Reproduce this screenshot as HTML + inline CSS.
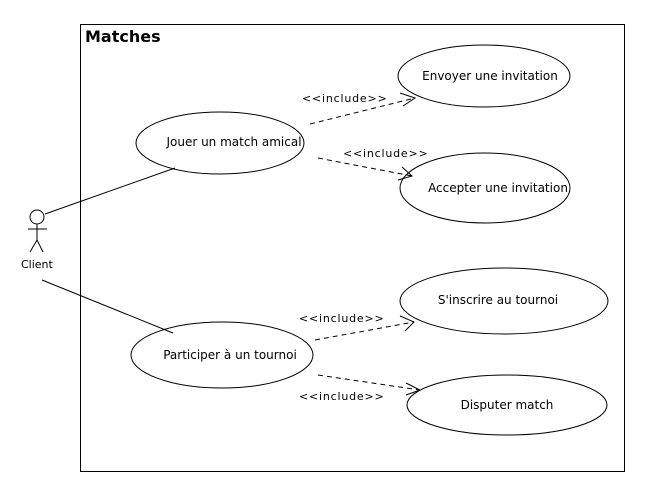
<!DOCTYPE html><html><head><style>body{margin:0;background:#fff}text{font-family:"DejaVu Sans","Liberation Sans",sans-serif;font-size:12px;fill:#000}</style></head><body>
<svg width="656" height="496" xmlns="http://www.w3.org/2000/svg">
<rect x="80.5" y="24.5" width="544" height="447" fill="none" stroke="#000"/>
<text x="85" y="42" style="font-size:16px;font-weight:bold">Matches</text>
<g fill="#fff" stroke="#000">
<ellipse cx="220" cy="143" rx="84" ry="31"/>
<ellipse cx="484" cy="76" rx="86" ry="31"/>
<ellipse cx="485" cy="188" rx="85" ry="35"/>
<ellipse cx="504" cy="301" rx="104" ry="33"/>
<ellipse cx="222" cy="355" rx="91" ry="33"/>
<ellipse cx="507" cy="405" rx="100" ry="30"/>
</g>
<text x="234" y="146" text-anchor="middle">Jouer un match amical</text>
<text x="490" y="80" text-anchor="middle">Envoyer une invitation</text>
<text x="498" y="192" text-anchor="middle">Accepter une invitation</text>
<text x="498" y="304" text-anchor="middle">S'inscrire au tournoi</text>
<text x="230" y="359" text-anchor="middle">Participer à un tournoi</text>
<text x="507" y="409" text-anchor="middle">Disputer match</text>
<g stroke="#000" fill="none">
<circle cx="37" cy="217" r="7"/>
<line x1="37" y1="224" x2="37" y2="240"/><line x1="28" y1="229" x2="47" y2="229"/>
<polyline points="30,252 37,240 43,252"/>
<line x1="45" y1="214" x2="175" y2="168"/>
<line x1="42" y1="280" x2="173" y2="333"/>
<g stroke-dasharray="5,4">
<line x1="310" y1="124" x2="415" y2="98"/>
<line x1="318" y1="158" x2="412" y2="176"/>
<line x1="315" y1="340" x2="414" y2="322"/>
<line x1="318" y1="375" x2="420" y2="390"/>
</g>
<polyline points="400,93 415,98 403,106"/>
<polyline points="402,167 412,176 398,180"/>
<polyline points="400,316 414,322 405,331"/>
<polyline points="406,383 420,390 406,395"/>
</g>
<text x="21" y="268" style="font-size:11px">Client</text>
<text x="302" y="102" style="font-size:11px;letter-spacing:0.8px">&lt;&lt;include&gt;&gt;</text>
<text x="343" y="157" style="font-size:11px;letter-spacing:0.8px">&lt;&lt;include&gt;&gt;</text>
<text x="299" y="322" style="font-size:11px;letter-spacing:0.8px">&lt;&lt;include&gt;&gt;</text>
<text x="299" y="400" style="font-size:11px;letter-spacing:0.8px">&lt;&lt;include&gt;&gt;</text>
</svg></body></html>
